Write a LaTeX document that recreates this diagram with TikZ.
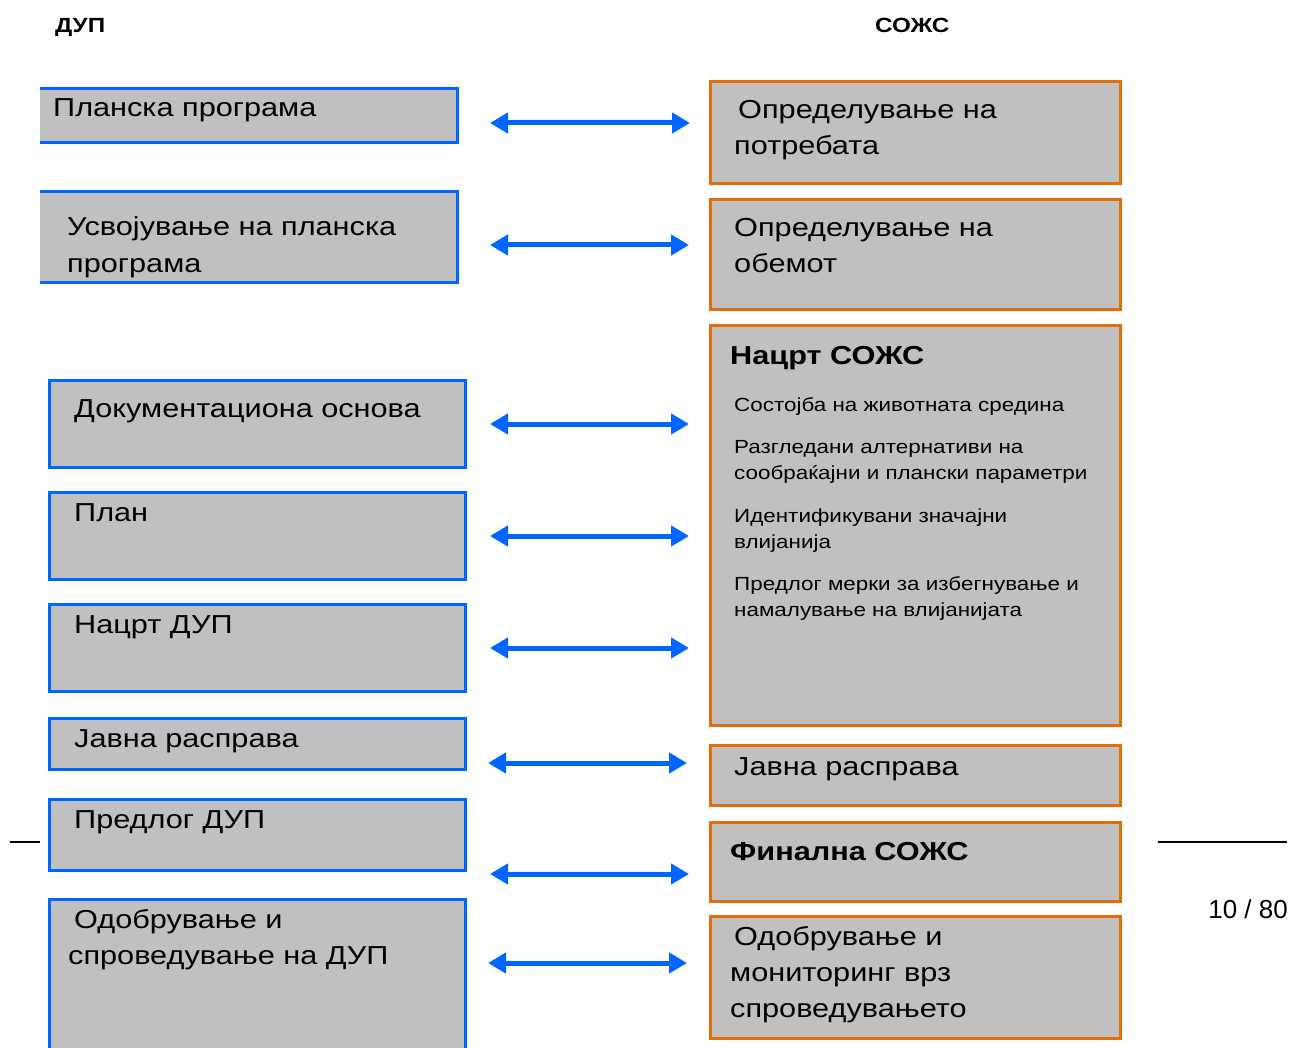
\documentclass[tikz,border=0pt]{standalone}
\usepackage{fontspec}
\setmainfont{Liberation Sans}[FakeStretch=1.18]
\newfontfamily\plainsans{Liberation Sans}
\usetikzlibrary{arrows.meta}
\definecolor{boxgray}{RGB}{192,192,192}
\definecolor{dupblue}{RGB}{0,102,255}
\definecolor{sozorange}{RGB}{226,110,10}
\tikzset{
  big/.style={font=\fontsize{26}{36}\selectfont, anchor=base west, inner sep=0pt, align=left},
  bigb/.style={font=\bfseries\fontsize{26}{36}\selectfont, anchor=base west, inner sep=0pt},
  small/.style={font=\fontsize{19}{26}\selectfont, anchor=base west, inner sep=0pt, align=left},
  head/.style={font=\bfseries\fontsize{20.5}{24}\selectfont, anchor=base west, inner sep=0pt},
  bluebox/.style={fill=boxgray, draw=dupblue, line width=3pt, inner sep=0pt},
  openbox/.style={fill=boxgray, inner sep=0pt},
  orangebox/.style={fill=boxgray, draw=sozorange, line width=3pt, inner sep=0pt},
  link/.style={draw=dupblue, line width=5pt, {Triangle[length=18pt,width=20pt]}-{Triangle[length=18pt,width=20pt]}},
  rule/.style={draw=black, line width=1.3pt}
}
\begin{document}
\begin{tikzpicture}[x=1pt,y=-1pt]
\useasboundingbox (0,0) rectangle (1290,1048);
\clip (0,0) rectangle (1290,1048);
% headings
\node[head] (hdup) at (55,33) {ДУП};
\node[head] (hsozs) at (875,33) {СОЖС};
% left boxes
\node[openbox, minimum width=417pt, minimum height=53pt] (l1) at (248.5,115.5) {};
\draw[dupblue, line width=3pt] (l1.north west) -- (l1.north east) -- (l1.south east) -- (l1.south west);
\node[openbox, minimum width=417pt, minimum height=90pt] (l2) at (248.5,237) {};
\draw[dupblue, line width=3pt] (l2.north west) -- (l2.north east) -- (l2.south east) -- (l2.south west);
\node[bluebox, minimum width=416pt, minimum height=87pt] (l3) at (257.5,424) {};
\node[bluebox, minimum width=416pt, minimum height=87pt] (l4) at (257.5,536) {};
\node[bluebox, minimum width=416pt, minimum height=87pt] (l5) at (257.5,648) {};
\node[bluebox, minimum width=416pt, minimum height=51pt] (l6) at (257.5,744) {};
\node[bluebox, minimum width=416pt, minimum height=71pt] (l7) at (257.5,835) {};
\node[bluebox, minimum width=416pt, minimum height=170pt] (l8) at (257.5,984) {};
% right boxes
\node[orangebox, minimum width=410pt, minimum height=102pt] (r1) at (915.5,132.5) {};
\node[orangebox, minimum width=410pt, minimum height=110pt] (r2) at (915.5,254.5) {};
\node[orangebox, minimum width=410pt, minimum height=400pt] (r3) at (915.5,525.5) {};
\node[orangebox, minimum width=410pt, minimum height=60pt] (r4) at (915.5,775.5) {};
\node[orangebox, minimum width=410pt, minimum height=79pt] (r5) at (915.5,862) {};
\node[orangebox, minimum width=410pt, minimum height=122pt] (r6) at (915.5,977.5) {};
% left texts
\node[big] (t1) at (53,117) {Планска програма};
\node[big] (t2a) at (67,236) {Усвојување на планска};
\node[big] (t2b) at (67,273) {програма};
\node[big] (t3) at (74,417) {Документациона основа};
\node[big] (t4) at (74,521) {План};
\node[big] (t5) at (74,633) {Нацрт ДУП};
\node[big] (t6) at (74,747) {Јавна расправа};
\node[big] (t7) at (74,828) {Предлог ДУП};
\node[big] (t8a) at (74,928) {Одобрување и};
\node[big] (t8b) at (68,964) {спроведување на ДУП};
% right texts
\node[big] (s1a) at (738,119) {Определување на};
\node[big] (s1b) at (734,155) {потребата};
\node[big] (s2a) at (734,237) {Определување на};
\node[big] (s2b) at (734,273) {обемот};
\node[bigb] (s3) at (730,364) {Нацрт СОЖС};
\node[small] (s3a) at (734,411) {Состојба на животната средина};
\node[small] (s3b) at (734,453) {Разгледани алтернативи на};
\node[small] (s3c) at (734,479) {сообраќајни и плански параметри};
\node[small] (s3d) at (734,522) {Идентификувани значајни};
\node[small] (s3e) at (734,548) {влијанија};
\node[small] (s3f) at (734,590) {Предлог мерки за избегнување и};
\node[small] (s3g) at (734,616) {намалување на влијанијата};
\node[big] (s4) at (734,775) {Јавна расправа};
\node[bigb] (s5) at (730,860) {Финална СОЖС};
\node[big] (s6a) at (734,945) {Одобрување и};
\node[big] (s6b) at (730,981) {мониторинг врз};
\node[big] (s6c) at (730,1017) {спроведувањето};
% arrows
\foreach \i/\y/\xa/\xb in {1/123/490/690, 2/245/490/689, 3/424/490/689, 4/536/490/689, 5/648/490/689, 6/763/488/687, 7/874/490/689, 8/963/488/687} {
  \coordinate (al\i) at (\xa,\y);
  \coordinate (ar\i) at (\xb,\y);
  \draw[link] (al\i) -- (ar\i);
}
% rules and page number
\coordinate (ra) at (10,842);
\coordinate (rb) at (40,842);
\coordinate (rc) at (1158,842);
\coordinate (rd) at (1287,842);
\draw[rule] (ra) -- (rb);
\draw[rule] (rc) -- (rd);
\node[font=\plainsans\fontsize{26}{30}\selectfont, anchor=base east, inner sep=0pt] (pg) at (1288,918) {10 / 80};
\end{tikzpicture}
\end{document}
